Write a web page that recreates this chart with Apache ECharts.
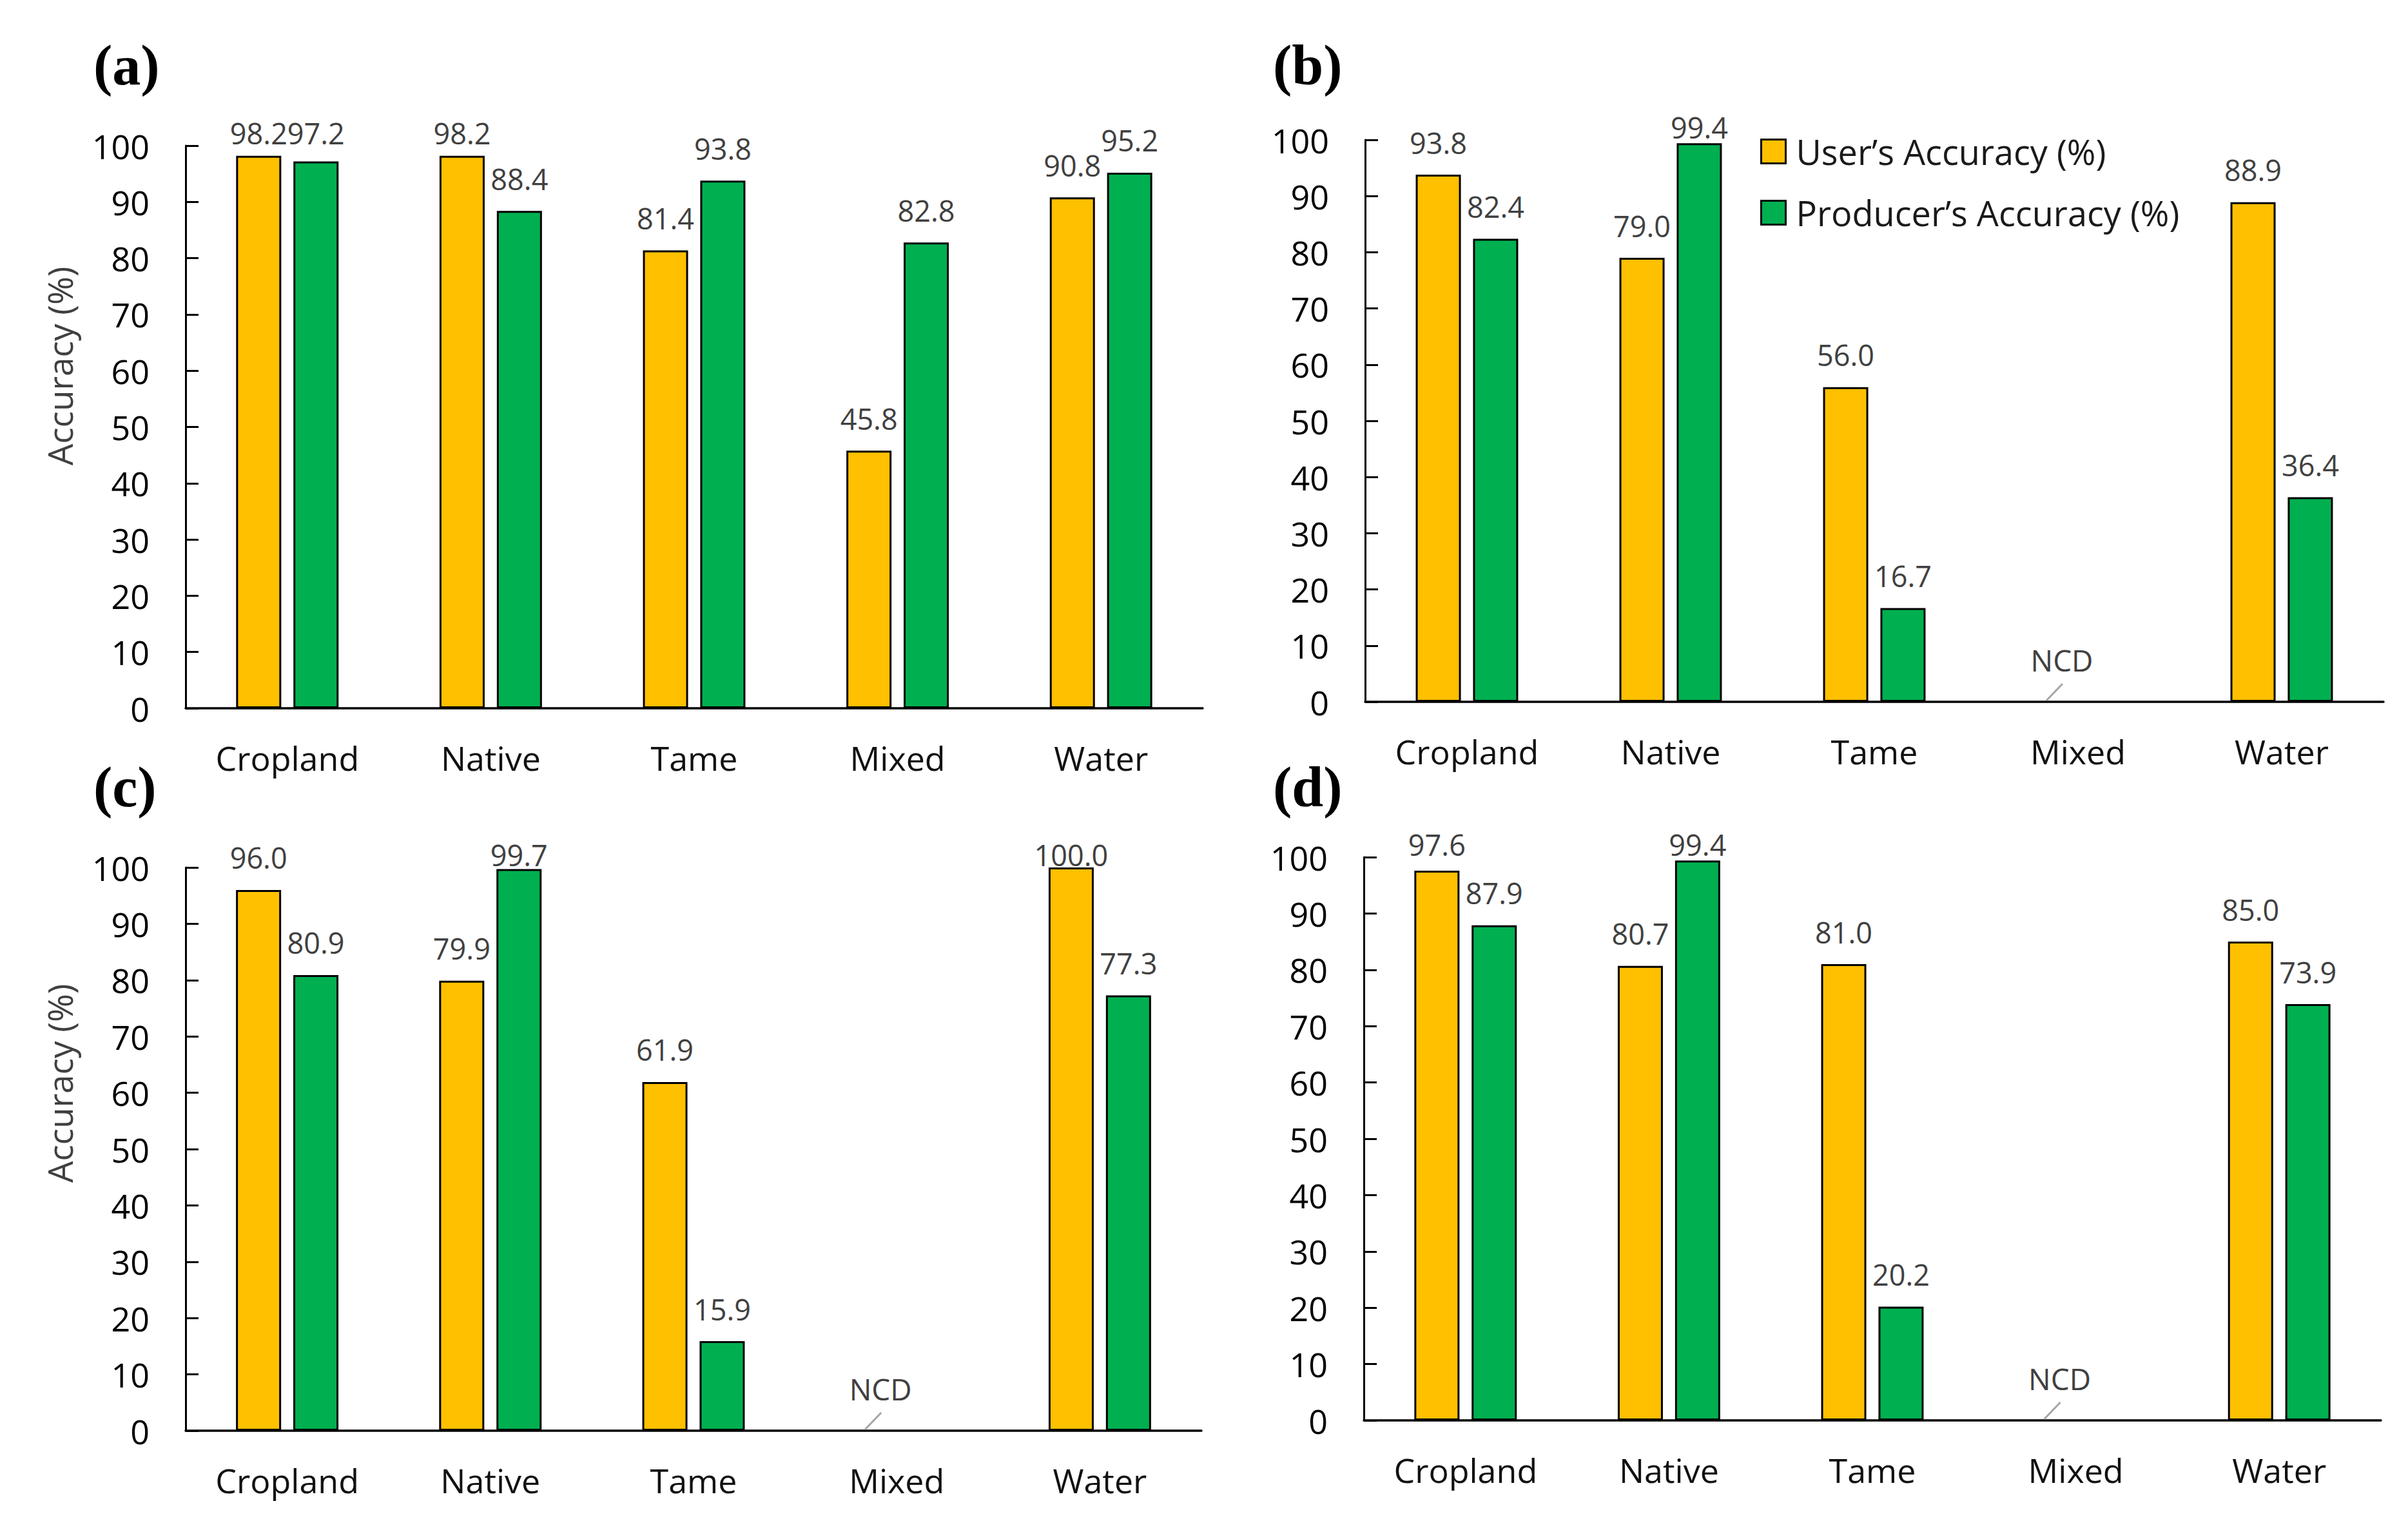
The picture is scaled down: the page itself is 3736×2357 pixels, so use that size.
<!DOCTYPE html>
<html>
<head>
<meta charset="utf-8">
<script src="https://cdn.jsdelivr.net/npm/echarts@6/dist/echarts.min.js"></script>
<style>
html,body{margin:0;padding:0;background:#fff;}
#chart{width:3736px;height:2357px;}
</style>
</head>
<body>
<div id="chart"></div>
<script>
// ---- data ----
const categories = ['Cropland', 'Native', 'Tame', 'Mixed', 'Water'];
const seriesNames = ['User\u2019s Accuracy (%)', 'Producer\u2019s Accuracy (%)'];
const panelLetters = ['(a)', '(b)', '(c)', '(d)'];
const yAxisTitle = 'Accuracy (%)';
const ncdText = 'NCD';

const usersA = [98.2, 98.2, 81.4, 45.8, 90.8];
const producersA = [97.2, 88.4, 93.8, 82.8, 95.2];
const usersB = [93.8, 79.0, 56.0, null, 88.9];
const producersB = [82.4, 99.4, 16.7, null, 36.4];
const usersC = [96.0, 79.9, 61.9, null, 100.0];
const producersC = [80.9, 99.7, 15.9, null, 77.3];
const usersD = [97.6, 80.7, 81.0, null, 85.0];
const producersD = [87.9, 99.4, 20.2, null, 73.9];
const ncdCategoryB = ['Mixed'];
const ncdCategoryC = ['Mixed'];
const ncdCategoryD = ['Mixed'];

// ---- layout ----
const grids = [
  {left: 288, top: 226, width: 1578, height: 873},
  {left: 2118, top: 217, width: 1580, height: 872},
  {left: 288, top: 1346, width: 1576, height: 874},
  {left: 2116, top: 1330, width: 1578, height: 874}
];
const letterPos = [[145, 101], [1975, 101], [145, 1221], [1975, 1221]];
const titlePos = [[92, 568], null, [92, 1681], null];

const panels = [
  {users: usersA, producers: producersA, ncd: []},
  {users: usersB, producers: producersB, ncd: ncdCategoryB},
  {users: usersC, producers: producersC, ncd: ncdCategoryC},
  {users: usersD, producers: producersD, ncd: ncdCategoryD}
];

const YELLOW = '#FFC000', GREEN = '#00B050';
const FONT = '"Open Sans", "Noto Sans", sans-serif';
const LABEL_LH = 46;

function labelData(values, h) {
  const ppu = h / 100;
  return values.map(v => {
    if (v == null) return null;
    const centerGap = Math.min(50, 20 + (100 - v) * ppu);
    return {value: v, label: {distance: centerGap - LABEL_LH / 2}};
  });
}

const option = {
  backgroundColor: '#fff',
  animation: false,
  grid: grids.map(g => Object.assign({containLabel: false}, g)),
  legend: {
    data: seriesNames,
    orient: 'vertical',
    left: 2731,
    top: 208,
    padding: 0,
    itemWidth: 38,
    itemHeight: 37,
    itemGap: 41,
    icon: 'rect',
    itemStyle: {borderColor: '#000', borderWidth: 3},
    textStyle: {fontSize: 54, fontFamily: FONT, color: '#1a1a1a', padding: [0, 0, 0, 11]}
  },
  xAxis: grids.map((g, i) => ({
    type: 'category',
    gridIndex: i,
    data: categories,
    axisTick: {show: false},
    axisLine: {lineStyle: {color: '#000', width: 3.5}},
    axisLabel: {fontSize: 52, fontFamily: FONT, color: '#111', margin: 46, lineHeight: 60, interval: 0}
  })),
  yAxis: grids.map((g, i) => ({
    type: 'value',
    gridIndex: i,
    min: 0, max: 100, interval: 10,
    splitLine: {show: false},
    axisLine: {show: true, lineStyle: {color: '#000', width: 3}},
    axisTick: {show: true, inside: true, length: 20, lineStyle: {color: '#000', width: 3}},
    axisLabel: {fontSize: 52, fontFamily: FONT, color: '#000', margin: 56}
  })),
  graphic: [],
  series: []
};

panelLetters.forEach((t, i) => {
  option.graphic.push({
    type: 'text', x: letterPos[i][0], y: letterPos[i][1],
    style: {text: t, fill: '#000', fontSize: 88, fontWeight: 'bold',
            fontFamily: '"Liberation Serif", "Times New Roman", serif',
            align: 'left', verticalAlign: 'middle'}
  });
  if (titlePos[i]) {
    option.graphic.push({
      type: 'text', x: titlePos[i][0], y: titlePos[i][1], rotation: Math.PI / 2,
      style: {text: yAxisTitle, fill: '#404040', fontSize: 53, fontFamily: FONT,
              align: 'center', verticalAlign: 'middle'}
    });
  }
});

panels.forEach((p, i) => {
  const h = grids[i].height;
  const common = {
    type: 'bar', xAxisIndex: i, yAxisIndex: i,
    barWidth: 70, barGap: '27%',
    label: {show: true, position: 'top', fontSize: 45, lineHeight: LABEL_LH,
            fontFamily: FONT, color: '#404040',
            formatter: d => (d.value == null ? '' : Number(d.value).toFixed(1))}
  };
  option.series.push(Object.assign({}, common, {
    name: seriesNames[0],
    itemStyle: {color: YELLOW, borderColor: '#000', borderWidth: 3},
    data: labelData(p.users, h)
  }));
  option.series.push(Object.assign({}, common, {
    name: seriesNames[1],
    itemStyle: {color: GREEN, borderColor: '#000', borderWidth: 3},
    data: labelData(p.producers, h)
  }));
  if (p.ncd.length) {
    option.series.push({
      type: 'custom', name: ncdText, xAxisIndex: i, yAxisIndex: i,
      data: p.ncd.map(c => [c, 0]),
      encode: {x: 0, y: 1},
      renderItem: (params, api) => {
        const pt = api.coord([api.value(0), 0]);
        return {
          type: 'group',
          children: [
            {type: 'line', shape: {x1: pt[0] - 49, y1: pt[1] - 2, x2: pt[0] - 24, y2: pt[1] - 28},
             style: {stroke: '#A6A6A6', lineWidth: 3}},
            {type: 'text', style: {text: ncdText, x: pt[0] - 25, y: pt[1] - 65,
              align: 'center', verticalAlign: 'middle', fontSize: 46, fontFamily: FONT, fill: '#404040'}}
          ]
        };
      }
    });
  }
});

const chart = echarts.init(document.getElementById('chart'), null, {renderer: 'svg', width: 3736, height: 2357});
chart.setOption(option);
</script>
</body>
</html>
